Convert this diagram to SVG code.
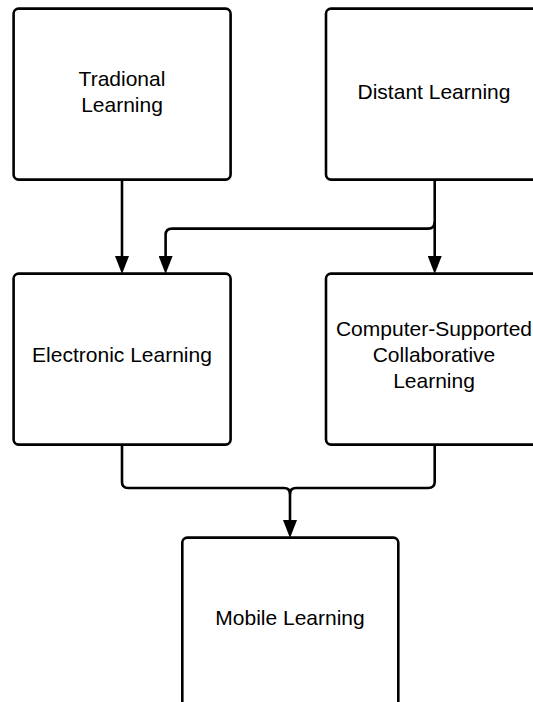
<svg xmlns="http://www.w3.org/2000/svg" width="533" height="702" viewBox="0 0 533 702">
<style>
.box{fill:#fff;stroke:#000;stroke-width:2.6}
.lbl{font-family:"Liberation Sans",Arial,sans-serif;font-size:21px;fill:#000;text-anchor:middle}
.conn{fill:none;stroke:#000;stroke-width:2.6}
</style>
<defs>
<marker id="arr" markerUnits="userSpaceOnUse" markerWidth="18" markerHeight="14" viewBox="0 0 18 14" refX="6" refY="7" orient="auto">
<path d="M0,0 L18,7 L0,14 Z" fill="#000"/>
</marker>
</defs>
<rect width="533" height="702" fill="#fff"/>
<g id="connectors">
<path class="conn" d="M122,179 V262" marker-end="url(#arr)"/>
<path class="conn" d="M434.7,179 V262" marker-end="url(#arr)"/>
<path class="conn" d="M434.7,222 Q434.7,228.6 428,228.6 H172 Q165.6,228.6 165.6,235 V262" marker-end="url(#arr)"/>
<path class="conn" d="M122,445 V482 Q122,488 128,488 H284 Q290,488 290,494 V526" marker-end="url(#arr)"/>
<path class="conn" d="M434.7,445 V482 Q434.7,488 428,488 H296 Q290,488 290,494"/>
</g>
<g id="tradional">
<rect class="box" x="13.6" y="8.6" width="217" height="171" rx="5"/>
<text class="lbl" x="122" y="86">Tradional</text>
<text class="lbl" x="122" y="112">Learning</text>
</g>
<g id="distant">
<rect class="box" x="326" y="8.6" width="217" height="171" rx="5"/>
<text class="lbl" x="434" y="99">Distant Learning</text>
</g>
<g id="electronic">
<rect class="box" x="13.6" y="273.6" width="217" height="171" rx="5"/>
<text class="lbl" x="122" y="362">Electronic Learning</text>
</g>
<g id="cscl">
<rect class="box" x="326" y="273.6" width="217" height="171" rx="5"/>
<text class="lbl" x="434" y="336">Computer-Supported</text>
<text class="lbl" x="434" y="362">Collaborative</text>
<text class="lbl" x="434" y="388">Learning</text>
</g>
<g id="mobile">
<rect class="box" x="182.3" y="537.6" width="216" height="171" rx="5"/>
<text class="lbl" x="290" y="625">Mobile Learning</text>
</g>
</svg>
